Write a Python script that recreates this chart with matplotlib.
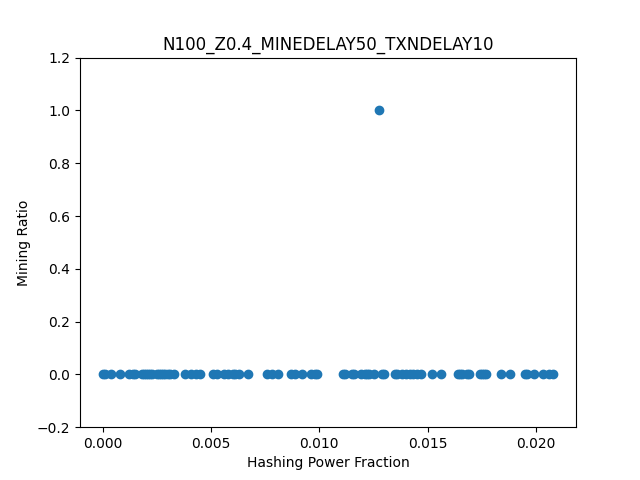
import matplotlib
matplotlib.use("Agg")
import matplotlib.pyplot as plt

# hashing power fraction (x1e-3) of nodes that mined nothing
zero_hash = [0.0, 0.1, 0.4, 0.8, 1.2, 1.4, 1.5, 1.8, 1.9, 2.0, 2.1, 2.2, 2.3, 2.5, 2.6,
             2.7, 2.8, 2.9, 3.0, 3.1, 3.3, 3.8, 4.1, 4.3, 4.5, 5.1, 5.3, 5.6, 5.8, 6.0,
             6.1, 6.3, 6.7, 7.6, 7.8, 8.1, 8.7, 8.9, 9.2, 9.6, 9.8, 9.9, 11.1, 11.2,
             11.5, 11.6, 11.9, 12.1, 12.2, 12.3, 12.5, 12.9, 13.0, 13.5, 13.6, 13.8,
             14.0, 14.2, 14.3, 14.5, 14.7, 15.2, 15.6, 16.4, 16.5, 16.6, 16.8, 16.9,
             17.4, 17.5, 17.6, 17.7, 18.4, 18.8, 19.5, 19.6, 19.9, 20.3, 20.6, 20.8]
winner_hash = 12.75
hash_frac = [v / 1000 for v in zero_hash] + [winner_hash / 1000]
ratio = [0.0] * len(zero_hash) + [1.0]

fig, ax = plt.subplots(figsize=(6.4, 4.8), dpi=100)
ax.scatter(hash_frac, ratio)
ax.set_ylim(-0.2, 1.2)
ax.set_xlabel("Hashing Power Fraction")
ax.set_ylabel("Mining Ratio")
ax.set_title("N100_Z0.4_MINEDELAY50_TXNDELAY10")
fig.savefig("out.png")
